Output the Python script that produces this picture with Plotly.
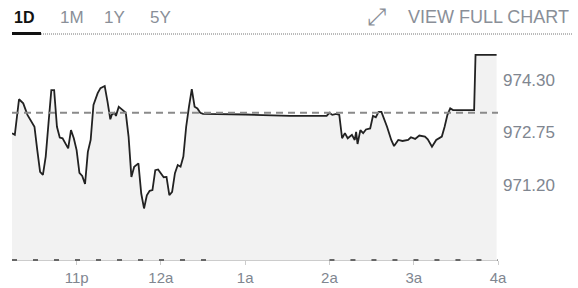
import plotly.graph_objects as go
from datetime import datetime, timedelta

# ---- data ----
times = ["22:14","22:16","22:19","22:22","22:25","22:28","22:30","22:32","22:34","22:36",
         "22:38","22:40","22:42","22:44","22:46","22:48","22:50","22:52","22:54","22:56",
         "22:58","23:00","23:02","23:04","23:06","23:08","23:10","23:12","23:15","23:17",
         "23:20","23:22","23:24","23:25","23:27","23:28","23:30","23:32","23:35","23:37",
         "23:39","23:41","23:44","23:46","23:48","23:50","23:52","23:54","23:56","23:58",
         "00:00","00:02","00:04","00:06","00:08","00:10","00:12","00:14","00:16","00:18",
         "00:20","00:22","00:24","00:26","00:28","00:30","01:00","01:32","01:58","02:00",
         "02:02","02:05","02:07","02:09","02:11","02:13","02:16","02:18","02:19","02:20",
         "02:22","02:24","02:26","02:29","02:31","02:33","02:35","02:37","02:41","02:44",
         "02:46","02:49","02:52","02:56","02:58","03:01","03:04","03:08","03:10","03:13",
         "03:16","03:20","03:22","03:24","03:26","03:28","03:43","03:44","03:59"]
prices = [972.73, 972.68, 973.73, 973.61, 973.27, 973.07, 972.92, 972.23, 971.59, 971.50,
          972.04, 973.03, 974.00, 974.00, 972.92, 972.60, 972.58, 972.43, 972.28, 972.82,
          972.58, 972.23, 971.56, 971.47, 971.23, 972.18, 972.53, 973.56, 973.91, 974.06,
          974.12, 973.66, 973.14, 973.27, 973.33, 973.24, 973.51, 973.44, 973.33, 972.63,
          971.44, 971.74, 971.84, 970.95, 970.51, 970.90, 971.03, 971.05, 971.64, 971.66,
          971.55, 971.43, 971.44, 970.90, 971.00, 971.55, 971.79, 971.74, 972.04, 972.92,
          973.51, 974.03, 973.51, 973.46, 973.33, 973.30, 973.28, 973.24, 973.24, 973.33,
          973.27, 973.30, 973.27, 972.58, 972.73, 972.58, 972.68, 972.53, 972.77, 972.41,
          972.82, 972.73, 972.84, 972.87, 973.24, 973.20, 973.36, 973.36, 972.92, 972.53,
          972.35, 972.53, 972.50, 972.53, 972.61, 972.56, 972.66, 972.63, 972.55, 972.33,
          972.53, 972.63, 972.92, 973.27, 973.46, 973.41, 973.41, 975.04, 975.04]
prev_close = 973.33
y_ticks = [971.20, 972.75, 974.30]
y_tick_labels = ["971.20", "972.75", "974.30"]
x_ticks = ["23:00", "00:00", "01:00", "02:00", "03:00", "04:00"]
x_tick_labels = ["11p", "12a", "1a", "2a", "3a", "4a"]
x_start, x_end = "22:14", "04:00"
y_min, y_max = 968.99, 975.33
dotted_spans = [("22:14", "00:36"), ("02:00", "04:00")]
tabs = ["1D", "1M", "1Y", "5Y"]

base = datetime(2020, 1, 1)
def to_dt(s):
    h, m = map(int, s.split(":"))
    d = base + timedelta(hours=h, minutes=m)
    if h < 12:
        d += timedelta(days=1)
    return d

xs = [to_dt(t) for t in times]

W, H = 578, 288
ML, MR, MT, MB = 12, 80, 45, 28
PW, PH = W - ML - MR, H - MT - MB
def px(X):
    return (X - ML) / PW
def py(Y):
    return (H - MB - Y) / PH

fig = go.Figure()
fig.add_trace(go.Scatter(
    x=xs, y=prices, mode="lines", fill="tozeroy", fillcolor="#f2f2f2",
    line=dict(color="#222222", width=1.8), hoverinfo="skip", showlegend=False))

shapes = []
shapes.append(dict(type="line", xref="paper", yref="y", x0=0, x1=1,
                   y0=prev_close, y1=prev_close,
                   line=dict(color="#8a8a8a", width=2, dash="7px,5px")))
for a, b in dotted_spans:
    shapes.append(dict(type="line", xref="x", yref="paper", x0=to_dt(a), x1=to_dt(b),
                       y0=0, y1=0, line=dict(color="#666666", width=2, dash="5px,16px")))
shapes.append(dict(type="line", xref="paper", yref="paper", x0=px(12), x1=px(41),
                   y0=py(33.5), y1=py(33.5), line=dict(color="#111111", width=3)))
shapes.append(dict(type="line", xref="paper", yref="paper", x0=px(41), x1=px(572),
                   y0=py(34), y1=py(34), line=dict(color="#777777", width=1, dash="1px,1px")))
fig.update_layout(shapes=shapes)

annotations = []
tab_x = [24, 71.5, 114, 160]
for i, (t, cx) in enumerate(zip(tabs, tab_x)):
    annotations.append(dict(
        text=f"<b>{t}</b>" if i == 0 else t, xref="paper", yref="paper",
        x=px(cx), y=py(17.5), xanchor="center", yanchor="middle", showarrow=False,
        font=dict(family="Liberation Sans, Arial", size=16 if i == 0 else 17,
                  color="#111111" if i == 0 else "#8a8f98")))
annotations.append(dict(text="VIEW FULL CHART", xref="paper", yref="paper",
                        x=px(571), y=py(17), xanchor="right", yanchor="middle",
                        showarrow=False,
                        font=dict(family="Liberation Sans, Arial", size=18, color="#8a8f98")))
annotations.append(dict(text="⤢", xref="paper", yref="paper",
                        x=px(376), y=py(17), xanchor="center", yanchor="middle",
                        showarrow=False,
                        font=dict(family="DejaVu Sans", size=24, color="#8a8f98")))
fig.update_layout(annotations=annotations)

fig.update_layout(
    width=W, height=H, margin=dict(l=ML, r=MR, t=MT, b=MB, autoexpand=False),
    paper_bgcolor="white", plot_bgcolor="white", showlegend=False,
    xaxis=dict(type="date", range=[to_dt(x_start), to_dt(x_end)], automargin=False,
               tickvals=[to_dt(t) for t in x_ticks], ticktext=x_tick_labels,
               showgrid=False, zeroline=False, showline=True, linecolor="#cccccc",
               linewidth=1, ticks="outside", ticklen=4, tickcolor="#cccccc",
               tickfont=dict(family="Liberation Sans, Arial", size=15, color="#808690")),
    yaxis=dict(range=[y_min, y_max], side="right", tickvals=y_ticks, automargin=False,
               ticktext=y_tick_labels, showgrid=False, zeroline=False,
               showline=False, ticks="", ticklabelstandoff=4,
               tickfont=dict(family="Liberation Sans, Arial", size=17, color="#808690")),
)

fig.write_html("out.html", config={"displayModeBar": False},
               post_script="document.body.style.margin='0';document.body.style.overflow='hidden';")
